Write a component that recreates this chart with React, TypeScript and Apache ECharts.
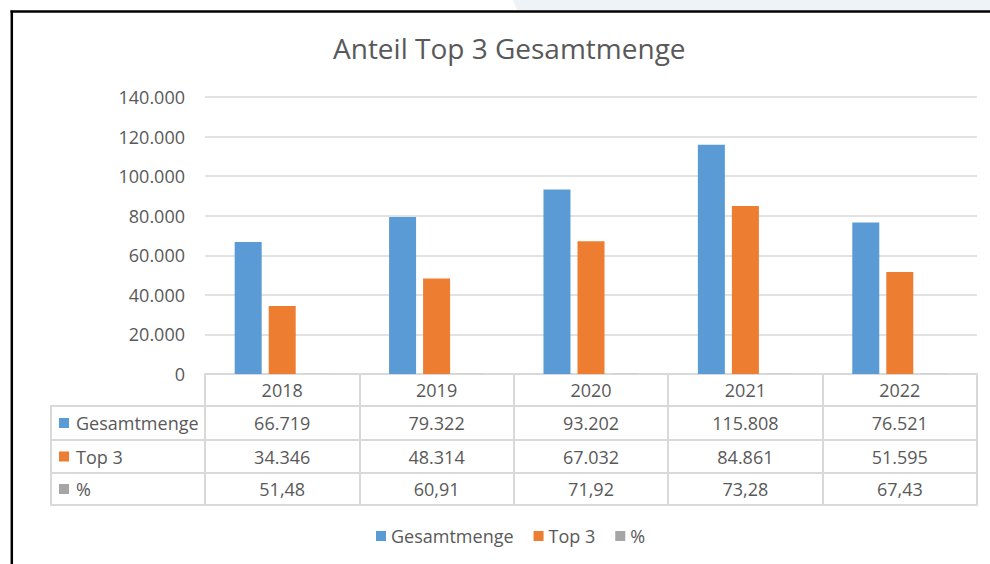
import React, { useEffect, useRef } from 'react';
import * as echarts from 'echarts';

const years = ['2018', '2019', '2020', '2021', '2022'];
const gesamtmenge = [66719, 79322, 93202, 115808, 76521];
const top3 = [34346, 48314, 67032, 84861, 51595];
const percent = [51.48, 60.91, 71.92, 73.28, 67.43];
const seriesNames = ['Gesamtmenge', 'Top 3', '%'];
const seriesColors = ['#5B9BD5', '#ED7D31', '#A5A5A5'];
const yMin = 0;
const yMax = 140000;
const yInterval = 20000;
const chartTitle = 'Anteil Top 3 Gesamtmenge';

const FONT = '"Open Sans", sans-serif';
const TEXT = '#595959';
const LINE = '#d9d9d9';

const fmtThousands = (n: number) => String(Math.round(n)).replace(/\B(?=(\d{3})+(?!\d))/g, '.');
const fmtPct = (n: number) => n.toFixed(2).replace('.', ',');

const seriesData = [gesamtmenge, top3, percent];
const seriesFmt = [fmtThousands, fmtThousands, fmtPct];

export default function App() {
  const ref = useRef<HTMLDivElement>(null);
  useEffect(() => {
    if (!ref.current) return;
    const chart = echarts.init(ref.current, null, { renderer: 'svg' });

    const gridBottomY = 374;
    const rowLines = [406, 440, 473, 505];
    const rowOffsets = rowLines.map((y) => y - gridBottomY);
    const rowCenters = [423, 456.5, 489];

    const tableAxis = (offset: number, seriesIdx: number | null, margin: number) => ({
      type: 'category',
      data: years,
      position: 'bottom',
      offset,
      axisLine: { show: true, lineStyle: { color: LINE, width: 2 } },
      axisTick: { show: false },
      splitLine: { show: false },
      axisLabel: {
        show: seriesIdx !== null,
        interval: 0,
        margin,
        verticalAlign: 'middle',
        color: TEXT,
        fontSize: 18,
        fontFamily: FONT,
        formatter: (_v: string, i: number) =>
          seriesIdx === null ? '' : seriesFmt[seriesIdx](seriesData[seriesIdx][i]),
      },
    });

    const graphics: any[] = [
      {
        type: 'polygon',
        shape: { points: [[513, 0], [990, 0], [990, 10], [517, 10]] },
        style: { fill: '#eef3f7' },
        silent: true,
      },
      { type: 'line', shape: { x1: 10.5, y1: 11.5, x2: 990, y2: 11.5 }, style: { stroke: '#000', lineWidth: 2.5 } },
      { type: 'line', shape: { x1: 11.8, y1: 10.5, x2: 11.8, y2: 564 }, style: { stroke: '#000', lineWidth: 2.5 } },
      { type: 'line', shape: { x1: 51, y1: rowLines[0], x2: 51, y2: rowLines[3] }, style: { stroke: LINE, lineWidth: 2 } },
    ];
    rowLines.forEach((y) => {
      graphics.push({ type: 'line', shape: { x1: 50, y1: y, x2: 205, y2: y }, style: { stroke: LINE, lineWidth: 2 } });
    });
    seriesNames.forEach((name, i) => {
      graphics.push({
        type: 'rect',
        shape: { x: 59, y: rowCenters[i] - 5, width: 10, height: 10 },
        style: { fill: seriesColors[i] },
      });
      graphics.push({
        type: 'text',
        x: 76,
        y: rowCenters[i],
        style: { text: name, fill: TEXT, fontSize: 18, fontFamily: FONT, verticalAlign: 'middle', align: 'left' },
      });
    });

    chart.setOption({
      animation: false,
      backgroundColor: '#ffffff',
      title: {
        text: chartTitle,
        left: 333,
        top: 34,
        padding: 0,
        textStyle: { color: TEXT, fontSize: 28, fontWeight: 'normal', fontFamily: FONT },
      },
      legend: {
        data: seriesNames,
        left: 376,
        top: 527,
        padding: 0,
        icon: 'rect',
        itemWidth: 10,
        itemHeight: 10,
        itemGap: 20,
        textStyle: { color: TEXT, fontSize: 18, fontFamily: FONT },
      },
      grid: { left: 205, right: 13, top: 97, bottom: 564 - gridBottomY, containLabel: false },
      xAxis: [
        {
          type: 'category',
          data: years,
          position: 'bottom',
          axisLine: { show: true, lineStyle: { color: LINE, width: 2 } },
          axisTick: { show: true, interval: 0, length: 131, alignWithLabel: false, lineStyle: { color: LINE, width: 2 } },
          axisLabel: { interval: 0, margin: 16, verticalAlign: 'middle', color: TEXT, fontSize: 18, fontFamily: FONT },
          splitLine: { show: false },
        },
        tableAxis(rowOffsets[0], 0, rowCenters[0] - rowLines[0]),
        tableAxis(rowOffsets[1], 1, rowCenters[1] - rowLines[1]),
        tableAxis(rowOffsets[2], 2, rowCenters[2] - rowLines[2]),
        tableAxis(rowOffsets[3], null, 10),
      ],
      yAxis: {
        type: 'value',
        min: yMin,
        max: yMax,
        interval: yInterval,
        axisLine: { show: false },
        axisTick: { show: false },
        splitLine: { lineStyle: { color: LINE, width: 1.5 } },
        axisLabel: { margin: 20, color: TEXT, fontSize: 18, fontFamily: FONT, formatter: (v: number) => fmtThousands(v) },
      },
      series: seriesNames.map((name, i) => ({
        name,
        type: 'bar',
        data: seriesData[i],
        barWidth: 27,
        barGap: '26%',
        itemStyle: { color: seriesColors[i] },
      })),
      graphic: graphics,
    });
    return () => chart.dispose();
  }, []);
  return (
    <div
      ref={ref}
      style={{ position: 'fixed', left: 0, top: 0, width: 990, height: 564, background: '#fff' }}
    />
  );
}
